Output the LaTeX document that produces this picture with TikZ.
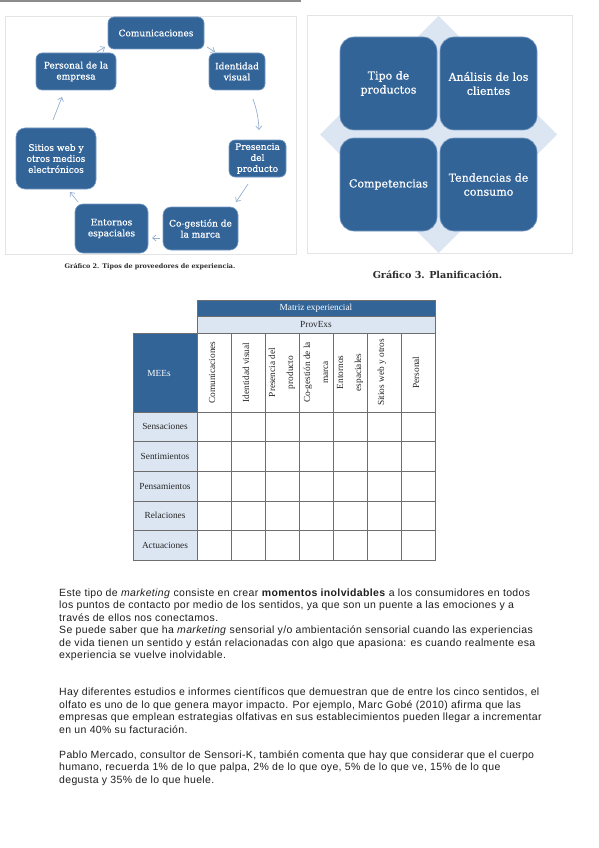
\documentclass[tikz,border=0pt]{standalone}
\usepackage{fontspec}
\setmainfont{DejaVu Serif}
\newfontfamily\tabfont{Liberation Serif}
\newfontfamily\bodyfont[LetterSpace=3.3]{Liberation Sans}
\usetikzlibrary{arrows.meta}
\definecolor{boxblue}{RGB}{50,100,152}
\definecolor{boxedge}{RGB}{120,155,195}
\definecolor{lightbl}{RGB}{220,230,242}
\definecolor{arrowc}{RGB}{150,176,210}
\definecolor{framec}{RGB}{228,228,228}
\definecolor{gridc}{RGB}{110,110,110}
\definecolor{captc}{RGB}{45,45,45}
\tikzset{
  prov/.style={rectangle, rounded corners=6, fill=boxblue, draw=boxedge, line width=0.6,
    text=white, align=center, inner sep=0, font=\fontsize{9}{11}\selectfont\addfontfeature{FakeBold=0.5}},
  plan/.style={rectangle, rounded corners=14, fill=boxblue, draw=boxedge, line width=0.6,
    text=white, align=center, inner sep=0, minimum width=97, minimum height=93,
    font=\fontsize{11}{14}\selectfont\addfontfeature{FakeBold=0.5}},
  arr/.style={draw=arrowc, line width=0.7, -{Straight Barb[length=3.5pt,width=6pt]}},
  tcell/.style={rectangle, draw=gridc, line width=0.6, inner sep=0},
  ttext/.style={font=\tabfont\fontsize{9.3}{11}\selectfont, align=center, inner sep=0, text=black!85},
  bodyline/.style={anchor=base west, inner sep=0, font=\bodyfont\fontsize{10.5}{12}\selectfont, text=black!88}
}
\begin{document}
\begin{tikzpicture}[x=1pt,y=-1pt]
\useasboundingbox (0,0) rectangle (599,848);
\fill[white] (0,0) rectangle (599,848);

% top rule
\draw[gray!90, line width=1.4] (0,1) -- (301,1);

% ===== Grafico 2 =====
\draw[framec, line width=0.8] (5,16) rectangle (296,254);
\node[prov, minimum width=96, minimum height=32] (com) at (156,33) {Comunicaciones};
\node[prov, minimum width=80, minimum height=37] (pers) at (76,71.5) {Personal de la\\empresa};
\node[prov, minimum width=56, minimum height=37] (ident) at (237,71.5) {Identidad\\visual};
\node[prov, rounded corners=9, minimum width=80, minimum height=61] (sitios) at (56,158.5) {Sitios web y\\otros medios\\electrónicos};
\node[prov, minimum width=57, minimum height=37] (pres) at (257.5,158.5) {Presencia\\del\\producto};
\node[prov, rounded corners=8, minimum width=73, minimum height=49] (ent) at (111.5,228.5) {Entornos\\espaciales};
\node[prov, rounded corners=8, minimum width=75, minimum height=43] (cog) at (200.5,228.5) {Co-gestión de\\la marca};

\draw[arr] ([shift={(21,-19.5)}]pers.center) -- ([shift={(-51,14)}]com.center);
\draw[arr] ([shift={(51,14)}]com.center) -- ([shift={(-22,-19.5)}]ident.center);
\draw[arr] ([shift={(16,27.5)}]ident.center) to[bend left=8] ([shift={(1.5,-28.5)}]pres.center);
\draw[arr] ([shift={(-9.5,25.5)}]pres.center) -- ([shift={(35.5,-26.5)}]cog.center);
\draw[arr] ([shift={(-40.5,9.5)}]cog.center) -- ([shift={(40.5,9.5)}]ent.center);
\draw[arr] ([shift={(-33.5,-26.5)}]ent.center) -- ([shift={(14,33.5)}]sitios.center);
\draw[arr] ([shift={(-3,-38.5)}]sitios.center) -- ([shift={(-14,25.5)}]pers.center);

\node[font=\bfseries\fontsize{6.4}{7}\selectfont, text=captc] (cap2) at (150,267) {Gráfico 2. Tipos de proveedores de experiencia.};

% ===== Grafico 3 =====
\draw[framec, line width=0.8] (307,15) rectangle (572,253);
\fill[lightbl] (438.5,16) -- (557,134.5) -- (438.5,253) -- (320,134.5) -- cycle;
\draw[framec, line width=0.8] (307,253) -- (572,253);
\node[plan] (tipo) at (388.5,83.5) {Tipo de\\productos};
\node[plan] (anal) at (488.5,83.5) {Análisis de los\\clientes};
\node[plan] (compt) at (388.5,184.5) {Competencias};
\node[plan] (tend) at (488.5,184.5) {Tendencias de\\consumo};
\node[font=\bfseries\fontsize{9.6}{11}\selectfont, text=captc] (cap3) at (437.5,275) {Gráfico 3. Planificación.};

% ===== Matriz =====
\node[tcell, fill=boxblue, minimum width=238, minimum height=16] (mx) at (316,308) {};
\node[ttext, text=white] (mxt) at (mx) {Matriz experiencial};
\node[tcell, fill=lightbl, minimum width=238, minimum height=17] (pv) at (316,324.5) {};
\node[ttext] (pvt) at (pv) {ProvExs};
\node[tcell, fill=boxblue, minimum width=64, minimum height=79] (mee) at (165,372.5) {};
\node[ttext, text=white] (meet) at (159,373) {MEEs};

\foreach \i/\t/\dx in {1/Comunicaciones/-2, 2/Identidad visual/-2, 3/{Presencia del\\[7pt]producto}/0,
  4/{Co-gestión de la\\[7pt]marca}/0, 5/{Entornos\\[7pt]espaciales}/0, 6/Sitios web y otros/-2, 7/Personal/-2}{
  \node[tcell, minimum width=34, minimum height=79] (h\i) at ({197+34*\i-17},372.5) {};
  \node[ttext, rotate=90] (ht\i) at ([xshift=\dx]h\i.center) {\t};
}
\foreach \r/\t in {1/Sensaciones, 2/Sentimientos, 3/Pensamientos, 4/Relaciones, 5/Actuaciones}{
  \node[tcell, fill=lightbl, minimum width=64, minimum height=29.6] (r\r) at (165,{412+29.6*\r-14.8}) {};
  \node[ttext] (rt\r) at (r\r) {\t};
  \foreach \c in {1,...,7}{
    \node[tcell, minimum width=34, minimum height=29.6] (c\r-\c) at ({197+34*\c-17},{412+29.6*\r-14.8}) {};
  }
}

% ===== Body text =====
\node[bodyline] (l1) at (59,596) {Este tipo de \textit{marketing} consiste en crear \textbf{momentos inolvidables} a los consumidores en todos};
\node[bodyline] (l2) at (59,608.5) {los puntos de contacto por medio de los sentidos, ya que son un puente a las emociones y a};
\node[bodyline] (l3) at (59,621) {través de ellos nos conectamos.};
\node[bodyline] (l4) at (59,633.5) {Se puede saber que ha \textit{marketing} sensorial y/o ambientación sensorial cuando las experiencias};
\node[bodyline] (l5) at (59,646) {de vida tienen un sentido y están relacionadas con algo que apasiona: es cuando realmente esa};
\node[bodyline] (l6) at (59,658.5) {experiencia se vuelve inolvidable.};

\node[bodyline] (l7) at (59,695.5) {Hay diferentes estudios e informes científicos que demuestran que de entre los cinco sentidos, el};
\node[bodyline] (l8) at (59,708) {olfato es uno de lo que genera mayor impacto. Por ejemplo, Marc Gobé (2010) afirma que las};
\node[bodyline] (l9) at (59,720.5) {empresas que emplean estrategias olfativas en sus establecimientos pueden llegar a incrementar};
\node[bodyline] (l10) at (59,733) {en un 40\% su facturación.};

\node[bodyline] (l11) at (59,758) {Pablo Mercado, consultor de Sensori-K, también comenta que hay que considerar que el cuerpo};
\node[bodyline] (l12) at (59,770.5) {humano, recuerda 1\% de lo que palpa, 2\% de lo que oye, 5\% de lo que ve, 15\% de lo que};
\node[bodyline] (l13) at (59,783) {degusta y 35\% de lo que huele.};
\end{tikzpicture}
\end{document}
